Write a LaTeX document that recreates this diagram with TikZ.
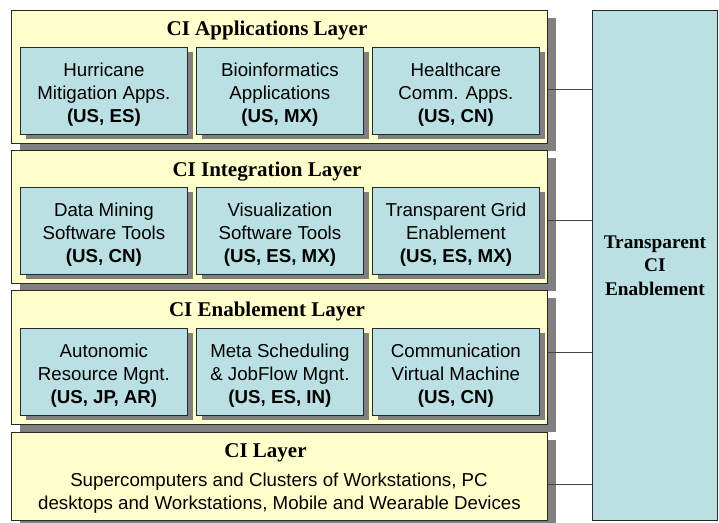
\documentclass[tikz,border=0pt]{standalone}
\usepackage{fontspec}
\setmainfont{Liberation Serif}
\newfontfamily\arialf{Liberation Sans}
\usetikzlibrary{shadows}
\definecolor{ylw}{RGB}{255,255,204}
\definecolor{blu}{RGB}{187,224,227}
\definecolor{shd}{RGB}{128,128,128}
\definecolor{edgec}{RGB}{40,40,40}
\definecolor{linec}{RGB}{70,70,70}
\newcommand\topstrut{\rule{0pt}{21pt}}
\begin{document}
\begin{tikzpicture}[x=1pt,y=-1pt,
  layerbox/.style={draw=edgec, line width=0.8pt, fill=ylw, anchor=north west, inner sep=0pt,
    minimum width=536pt,
    general shadow={fill=shd, shadow xshift=9pt, shadow yshift=-8pt}},
  appbox/.style={draw=edgec, line width=0.8pt, fill=blu, anchor=north west, inner sep=0pt,
    minimum width=167pt, minimum height=87pt, align=center,
    font=\arialf\fontsize{18.7}{23}\selectfont,
    general shadow={fill=shd, shadow xshift=6pt, shadow yshift=-5pt}},
  titletext/.style={anchor=base, inner sep=0pt, font=\bfseries\fontsize{21}{24}\selectfont},
  plaintext/.style={anchor=base, inner sep=0pt, font=\arialf\fontsize{18.7}{23}\selectfont},
  conn/.style={draw=linec, line width=0.9pt}
]
\useasboundingbox (0,0) rectangle (719,522);

% Layer 1
\node[layerbox, minimum height=133pt] (L1) at (11,10) {};
\node[titletext] (L1t) at (267,35) {CI Applications Layer};
\node[appbox] (A1) at (20,47) {\topstrut Hurricane\\Mitigation Apps.\\\textbf{(US, ES)}};
\node[appbox] (A2) at (196,47) {\topstrut Bioinformatics\\Applications\\\textbf{(US, MX)}};
\node[appbox] (A3) at (372,47) {\topstrut Healthcare\\Comm. Apps.\\\textbf{(US, CN)}};

% Layer 2
\node[layerbox, minimum height=133pt] (L2) at (11,150) {};
\node[titletext] (L2t) at (267,176) {CI Integration Layer};
\node[appbox] (B1) at (20,187) {\topstrut Data Mining\\Software Tools\\\textbf{(US, CN)}};
\node[appbox] (B2) at (196,187) {\topstrut Visualization\\Software Tools\\\textbf{(US, ES, MX)}};
\node[appbox] (B3) at (372,187) {\topstrut Transparent Grid\\Enablement\\\textbf{(US, ES, MX)}};

% Layer 3
\node[layerbox, minimum height=134pt] (L3) at (11,290) {};
\node[titletext] (L3t) at (267,316.5) {CI Enablement Layer};
\node[appbox] (C1) at (20,328) {\topstrut Autonomic\\Resource Mgnt.\\\textbf{(US, JP, AR)}};
\node[appbox] (C2) at (196,328) {\topstrut Meta Scheduling\\\& JobFlow Mgnt.\\\textbf{(US, ES, IN)}};
\node[appbox] (C3) at (372,328) {\topstrut Communication\\Virtual Machine\\\textbf{(US, CN)}};

% Layer 4
\node[layerbox, minimum height=88pt] (L4) at (11,432) {};
\node[titletext] (L4t) at (265.5,457) {CI Layer};
\node[plaintext] (L4a) at (279,486.5) {Supercomputers and Clusters of Workstations, PC};
\node[plaintext] (L4b) at (279.5,509) {desktops and Workstations, Mobile and Wearable Devices};

% Right box
\node[draw=edgec, line width=0.8pt, fill=blu, anchor=north west, inner sep=0pt,
  minimum width=125pt, minimum height=510pt, align=center,
  font=\bfseries\fontsize{19.3}{23.5}\selectfont] (R) at (592,10) {Transparent\\CI\\Enablement};

% Connectors
\coordinate (k1) at ([yshift=-12.5pt]L1.east);
\coordinate (k2) at ([yshift=-3.5pt]L2.east);
\coordinate (k3) at ([yshift=4.5pt]L3.east);
\coordinate (k4) at ([yshift=-8pt]L4.east);
\draw[conn] (k1) -- (R.west |- k1);
\draw[conn] (k2) -- (R.west |- k2);
\draw[conn] (k3) -- (R.west |- k3);
\draw[conn] (k4) -- (R.west |- k4);
\end{tikzpicture}
\end{document}
